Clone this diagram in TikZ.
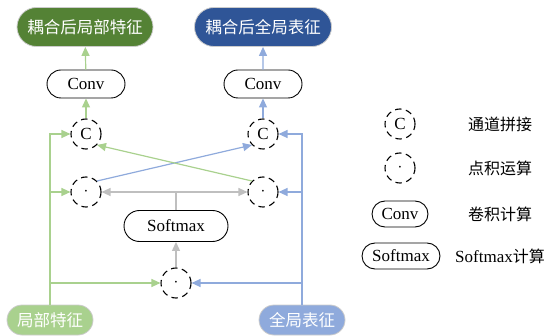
\documentclass[tikz,border=0pt]{standalone}
\usepackage{fontspec}
\setmainfont{Liberation Serif}
\newfontfamily\cjk{Noto Sans CJK SC}
\usetikzlibrary{arrows.meta,shapes.misc}

\definecolor{gdark}{HTML}{548235}
\definecolor{bdark}{HTML}{2F5597}
\definecolor{glight}{HTML}{A9D18E}
\definecolor{blight}{HTML}{8FAADC}
\definecolor{gline}{HTML}{BFBFBF}

\tikzset{
  pill/.style={rounded rectangle, draw, line width=0.9pt, inner sep=0pt,
    minimum height=28pt, font=\fontsize{17}{19}\selectfont},
  feat/.style={rounded rectangle, draw=black!20, line width=0.8pt, inner sep=0pt,
    text=white, font=\cjk\fontsize{16.5}{19}\selectfont},
  op/.style={circle, draw, line width=1.1pt, dash pattern=on 6.5pt off 4.5pt,
    minimum size=30pt, inner sep=0pt, font=\fontsize{17}{19}\selectfont},
  tip/.style={-{Triangle[length=9pt,width=8pt]}},
  garr/.style={draw=glight, line width=1.2pt, tip},
  barr/.style={draw=blight, line width=1.2pt, tip},
  rarr/.style={draw=gline, line width=1.2pt, tip},
  lbl/.style={font=\cjk\fontsize{16}{19}\selectfont, anchor=center},
}

\begin{document}
\begin{tikzpicture}[x=1pt,y=-1pt]
\useasboundingbox (0,0) rectangle (553,336);

% outputs
\node[feat, fill=gdark, minimum width=136pt, minimum height=39pt] (outL) at (85,27) {耦合后局部特征};
\node[feat, fill=bdark, minimum width=137pt, minimum height=39pt] (outR) at (263,27) {耦合后全局表征};

% convolutions
\node[pill, minimum width=78pt] (convL) at (86,84) {Conv};
\node[pill, minimum width=78pt] (convR) at (263,84) {Conv};

% concatenation and dot products
\node[op] (cL) at (86,134) {C};
\node[op] (cR) at (263,134) {C};
\node[op] (dL) at (86,192) {$\cdot$};
\node[op] (dR) at (263,192) {$\cdot$};
\node[pill, minimum width=104pt, minimum height=31pt] (sm) at (176,226) {Softmax};
\node[op] (dB) at (176,283) {$\cdot$};

% inputs
\node[feat, fill=glight, minimum width=86pt, minimum height=30pt] (inL) at (50,320) {局部特征};
\node[feat, fill=blight, minimum width=86pt, minimum height=30pt] (inR) at (302,320) {全局表征};

% output paths
\draw[garr] (convL) -- (outL);
\draw[barr] (convR) -- (outR);
\draw[garr] (cL) -- (convL);
\draw[barr] (cR) -- (convR);

% local feature branches
\draw[garr] (inL.north) -- (inL.north |- cL) -- (cL.west);
\draw[garr] (inL.north |- dL) -- (dL.west);
\draw[garr] (inL.north |- dB) -- (dB.west);

% global feature branches
\draw[barr] (inR.north) -- (inR.north |- cR) -- (cR.east);
\draw[barr] (inR.north |- dR) -- (dR.east);
\draw[barr] (inR.north |- dB) -- (dB.east);

% attention weights
\draw[rarr] (dB) -- (sm);
\coordinate (j) at (sm.north |- dL);
\draw[draw=gline, line width=1.2pt] (sm.north) -- (j);
\draw[rarr] (j) -- (dL.east);
\draw[rarr] (j) -- (dR.west);

% cross connections
\draw[barr] (dL.north east) -- (cR.south west);
\draw[garr] (dR.north west) -- (cL.south east);

% legend
\node[op] (kC) at (400,124) {C};
\node[lbl] (tC) at (500,124) {通道拼接};
\node[op] (kD) at (400,168) {$\cdot$};
\node[lbl] (tD) at (500,168) {点积运算};
\node[pill, minimum width=56pt, minimum height=26pt] (kConv) at (400,214) {Conv};
\node[lbl] (tConv) at (500,214) {卷积计算};
\node[pill, minimum width=78pt, minimum height=26pt] (kSm) at (401,256) {Softmax};
\node[anchor=center, font=\fontsize{17}{19}\selectfont] (tSm) at (500,256) {Softmax{\cjk\fontsize{16}{19}\selectfont 计算}};
\end{tikzpicture}
\end{document}
